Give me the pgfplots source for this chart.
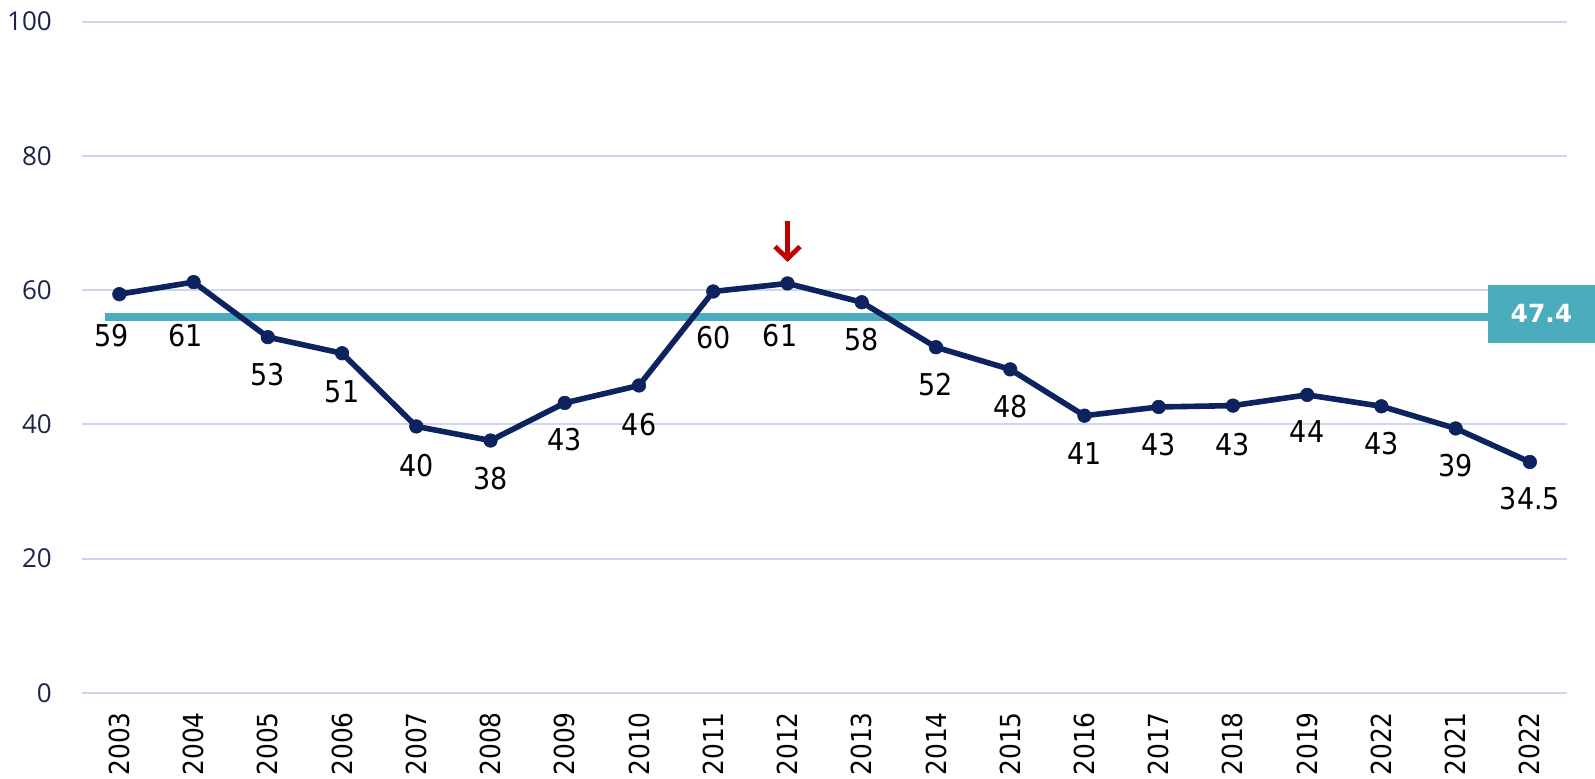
\documentclass[border=0pt]{standalone}
\usepackage{pgfplots}
\pgfplotsset{compat=1.18}
\usepackage{pgfplotstable}
\usepackage{fontspec}
\usetikzlibrary{arrows.meta}
\setmainfont{DejaVu Sans}
\newfontfamily\condfont{DejaVu Sans Condensed}
\newfontfamily\tickfont{Open Sans}
\definecolor{navy}{RGB}{12,35,95}
\definecolor{tealbar}{RGB}{74,172,189}
\definecolor{gridc}{RGB}{205,214,236}
\definecolor{tickc}{RGB}{28,38,72}
\definecolor{arrowred}{RGB}{192,0,0}

\pgfplotstableread{
x y
0 59.4
1 61.2
2 53.0
3 50.6
4 39.7
5 37.6
6 43.2
7 45.8
8 59.8
9 61.0
10 58.2
11 51.5
12 48.2
13 41.3
14 42.6
15 42.8
16 44.4
17 42.7
18 39.4
19 34.4
}\datatab

\pgfplotstableread{
x ly lab
-0.11 53.2 59
0.89 53.2 61
2 47.4 53
3 44.8 51
4 33.9 40
5 32.0 38
6 37.7 43
7 40.0 46
8 52.9 60
8.9 53.2 61
10 52.6 58
11 45.9 52
12 42.6 48
13 35.6 41
14 37.0 43
15 37.0 43
16 38.9 44
17 37.1 43
18 33.8 39
19 28.9 34.5
}\labtab

\begin{document}
\begin{tikzpicture}
\begin{axis}[
  scale only axis,
  width=742pt, height=335.5pt,
  xmin=-0.5, xmax=19.5,
  ymin=0, ymax=100,
  ytick={0,20,40,60,80,100},
  xtick={0,...,19},
  xticklabels={2003,2004,2005,2006,2007,2008,2009,2010,2011,2012,2013,2014,2015,2016,2017,2018,2019,2022,2021,2022},
  axis line style={draw=none},
  major tick length=0pt,
  ymajorgrids,
  grid style={gridc, line width=1pt},
  clip=false,
  /pgf/number format/assume math mode=true,
  yticklabel style={font=\tickfont\fontsize{13}{15}\selectfont, text=tickc, anchor=east, inner sep=0pt},
  yticklabel shift=15pt,
  xticklabel style={font=\condfont\fontsize{13.8}{15}\selectfont, text=black, rotate=90, anchor=east, inner sep=0pt},
  xticklabel shift=9.5pt,
]
\coordinate (bl) at (rel axis cs:0,0);
\coordinate (tr) at (rel axis cs:1,1);
\addplot[tealbar, line width=4pt, mark=none] coordinates {(-0.19,56) (18.43,56)};
\addplot[navy, line width=2.8pt, mark=*, mark size=3.4pt, mark options={fill=navy, draw=navy, line width=0.3pt}] table[x=x,y=y] {\datatab};
\addplot[draw=none, mark=none, nodes near coords, point meta=explicit symbolic,
  every node near coord/.append style={font=\condfont\fontsize{15}{17}\selectfont, text=black, anchor=center, inner sep=0pt}]
  table[x=x,y=ly,meta=lab] {\labtab};
\node[fill=tealbar, minimum width=53.5pt, minimum height=29pt, anchor=west, inner sep=0pt, text=white, font=\bfseries\fontsize{12.5}{14}\selectfont] at (axis cs:18.43,56.5) {47.4};
\draw[arrowred, line width=2.4pt, -{Straight Barb[length=6pt, width=12.5pt, line width=2.4pt]}] (axis cs:9,70.3) -- (axis cs:9,64.2);
\end{axis}
\pgfresetboundingbox
\path ([shift={(-41.1pt,-42.7pt)}]bl) rectangle ([shift={(14pt,10.8pt)}]tr);
\end{tikzpicture}
\end{document}
